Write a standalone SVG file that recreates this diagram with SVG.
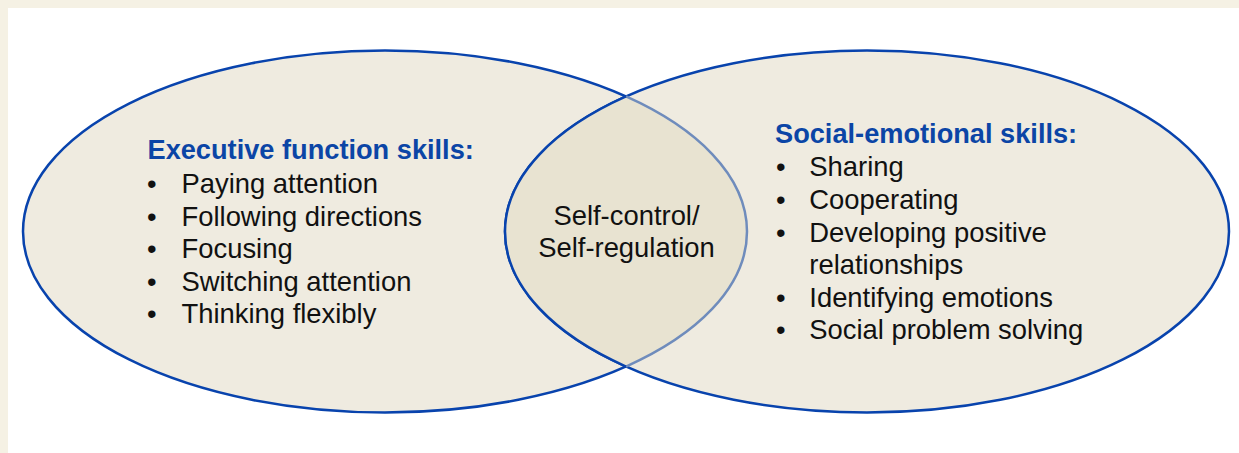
<svg xmlns="http://www.w3.org/2000/svg" width="1239" height="453" viewBox="0 0 1239 453">
<style>
.t{font-family:"Liberation Sans",Arial,sans-serif;font-size:27.4px;fill:#111}
.h{font-family:"Liberation Sans",Arial,sans-serif;font-size:27.2px;font-weight:bold;fill:#0B45A6}
.el{fill:#EFEBE0;stroke:#0843AD;stroke-width:2.5}
</style>
<rect x="0" y="0" width="1239" height="453" fill="#F5F1E4"/>
<rect x="8" y="8" width="1231" height="445" fill="#FFFFFF"/>
<g id="executive-function">
<ellipse class="el" cx="385" cy="231.5" rx="362" ry="181"/>
</g>
<g id="social-emotional">
<ellipse class="el" cx="867" cy="231.5" rx="362" ry="181"/>
</g>
<g id="overlap">
<path d="M626,96.44 A362,181 0 0 1 626,366.56 A362,181 0 0 1 626,96.44 Z" fill="#E8E3D1"/>
<path d="M626,96.44 A362,181 0 0 1 626,366.56" fill="none" stroke="#6F8CBC" stroke-width="2.5"/>
<path d="M626,366.56 A362,181 0 0 1 626,96.44" fill="none" stroke="#0843AD" stroke-width="2.5"/>
<text class="t" x="626.5" y="225" text-anchor="middle">Self-control/</text>
<text class="t" x="626.5" y="257" text-anchor="middle">Self-regulation</text>
</g>
<g id="executive-text">
<text class="h" x="147.5" y="158.5">Executive function skills:</text>
<text class="t" x="147" y="193">•</text><text class="t" x="181.5" y="193">Paying attention</text>
<text class="t" x="147" y="225.5">•</text><text class="t" x="181.5" y="225.5">Following directions</text>
<text class="t" x="147" y="258">•</text><text class="t" x="181.5" y="258">Focusing</text>
<text class="t" x="147" y="290.5">•</text><text class="t" x="181.5" y="290.5">Switching attention</text>
<text class="t" x="147" y="322.5">•</text><text class="t" x="181.5" y="322.5">Thinking flexibly</text>
</g>
<g id="social-text">
<text class="h" x="775" y="143.3">Social-emotional skills:</text>
<text class="t" x="776" y="175.7">•</text><text class="t" x="809.3" y="175.7">Sharing</text>
<text class="t" x="776" y="209">•</text><text class="t" x="809.3" y="209">Cooperating</text>
<text class="t" x="776" y="241.7">•</text><text class="t" x="809.3" y="241.7">Developing positive</text>
<text class="t" x="809.3" y="273.5">relationships</text>
<text class="t" x="776" y="306.7">•</text><text class="t" x="809.3" y="306.7">Identifying emotions</text>
<text class="t" x="776" y="339.3">•</text><text class="t" x="809.3" y="339.3">Social problem solving</text>
</g>
</svg>
